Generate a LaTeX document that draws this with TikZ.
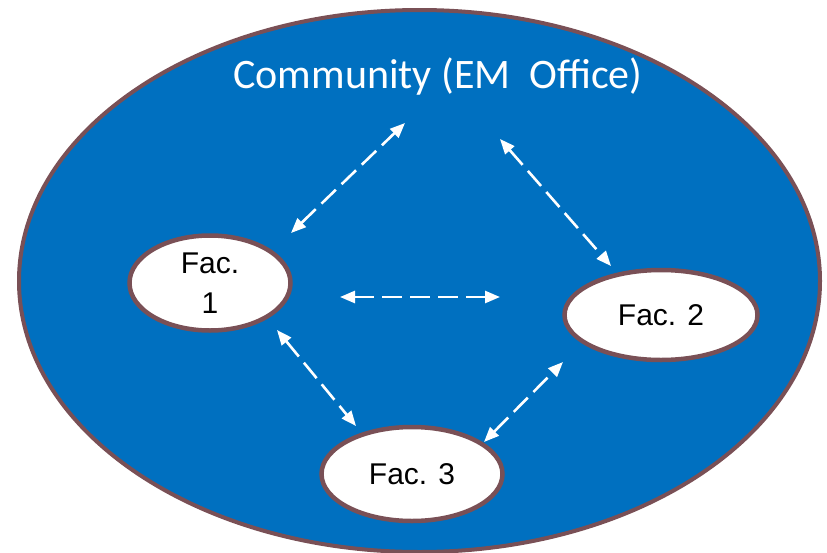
\documentclass[tikz,border=0pt]{standalone}
\usepackage{fontspec}
\setmainfont{Liberation Sans}
\newfontfamily\titlefont{Carlito}
\usetikzlibrary{shapes.geometric,arrows.meta}
\definecolor{embg}{RGB}{0,112,192}
\definecolor{embrd}{RGB}{121,80,86}
\tikzset{
  facnode/.style={ellipse, draw=embrd, line width=4.5pt, fill=white, inner sep=0pt, font=\fontsize{30}{40}\selectfont, align=center},
  link/.style={white, line width=2.6pt, dash pattern=on 20pt off 8pt, {Triangle[length=15pt,width=12pt]}-{Triangle[length=15pt,width=12pt]}}
}
\begin{document}
\begin{tikzpicture}[x=1pt,y=-1pt]
\useasboundingbox (0,0) rectangle (827,552);
\node[ellipse, draw=embrd, line width=4pt, fill=embg, minimum width=801pt, minimum height=542pt, inner sep=0pt] (com) at (419.5,281) {};
\node[text=white, font=\titlefont\fontsize{42}{44}\selectfont] (title) at (438,77) {Community (EM\ \ Office)};
\node[facnode, minimum width=161pt, minimum height=95pt] (f1) at (210,283) {Fac.\\1};
\node[facnode, minimum width=193pt, minimum height=90pt] (f2) at (661,315) {Fac. 2};
\node[facnode, minimum width=181pt, minimum height=94pt] (f3) at (412,474) {Fac. 3};
\coordinate (a1) at (291,233); \coordinate (b1) at (405,123);
\coordinate (a2) at (500,139); \coordinate (b2) at (611,266);
\coordinate (a3) at (340,297); \coordinate (b3) at (500,297);
\coordinate (a4) at (277,330); \coordinate (b4) at (356,426);
\coordinate (a5) at (484,442); \coordinate (b5) at (563,362);
\draw[link] (a1) -- (b1);
\draw[link] (a2) -- (b2);
\draw[link] (a3) -- (b3);
\draw[link] (a4) -- (b4);
\draw[link] (a5) -- (b5);
\end{tikzpicture}
\end{document}
